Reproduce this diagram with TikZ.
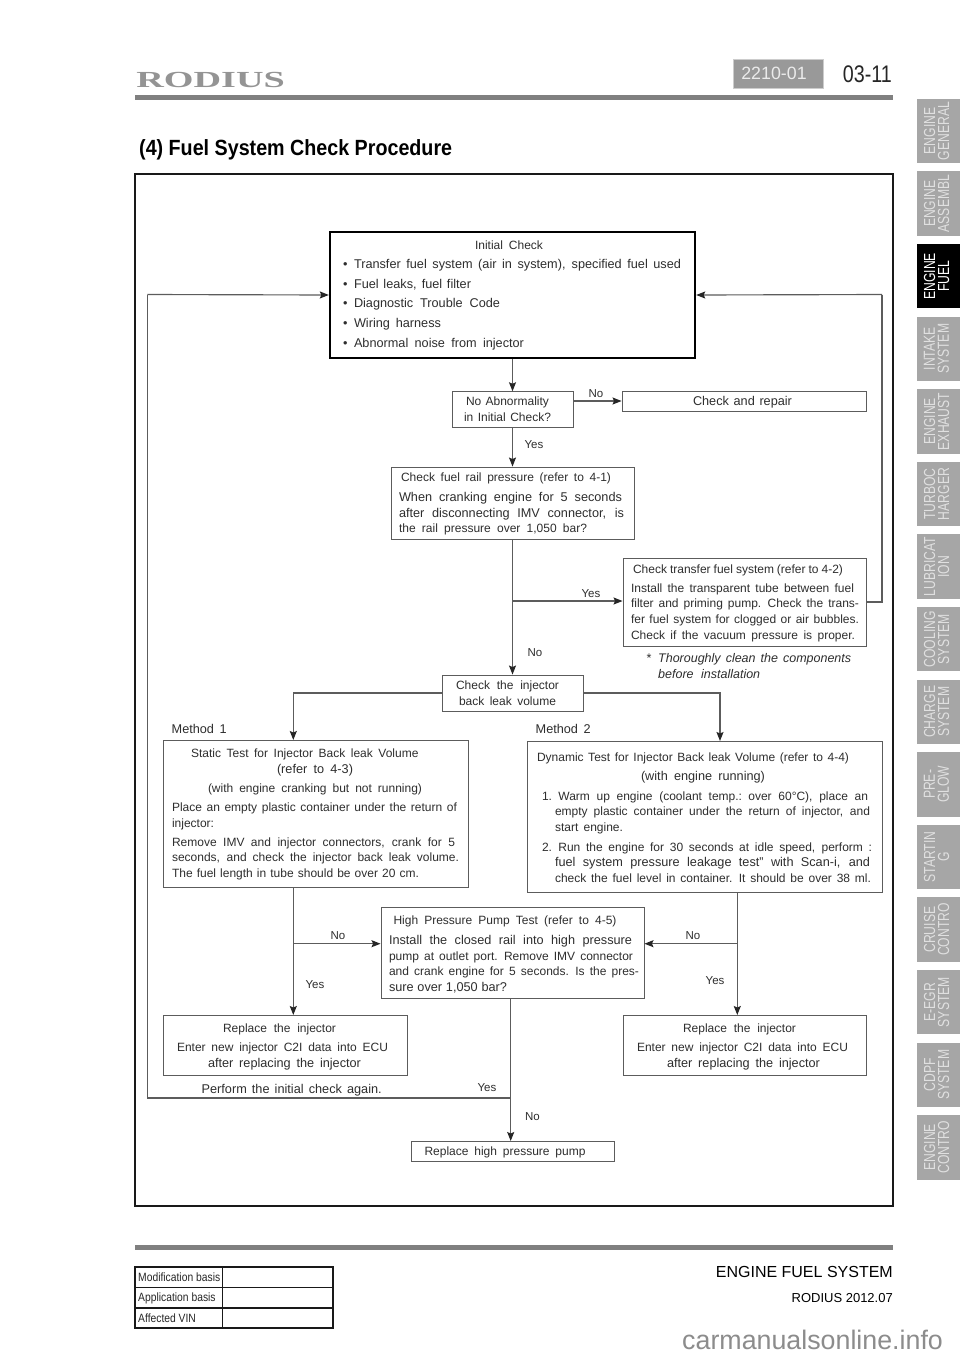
\documentclass[tikz,border=0pt]{standalone}
\usepackage{fontspec}
\setmainfont{Liberation Sans}
\newfontfamily\logofont{Liberation Serif}
\usetikzlibrary{arrows.meta}
\newcommand{\wsp}{\spaceskip=3.4pt plus 30pt minus 2.2pt\relax}
\newcommand{\dyy}{1pt}
\newcommand{\tline}[3]{\hspace*{#1pt}\raisebox{-\dyy}[\height][\depth]{\makebox[#2pt][s]{\wsp #3}}}
\newcommand{\sline}[3]{\hspace*{#1pt}\raisebox{-\dyy}[\height][\depth]{\makebox[#2pt][s]{\fontsize{12}{12}\selectfont\wsp #3}}}
\newcommand{\bline}[2]{\hspace*{13pt}\makebox[11pt][l]{\textbullet}\makebox[#1pt][s]{\wsp #2}}
\colorlet{ink}{black!82}
\colorlet{wire}{black!64}
\colorlet{tabgray}{black!35}
\tikzset{
  x=1pt,y=-1pt,
  boxn/.style={draw=wire,line width=0.9pt,inner sep=0pt,text=ink,
    font=\fontsize{12.7}{12}\selectfont},
  lab/.style={inner sep=0pt,text=ink,font=\fontsize{11.5}{12}\selectfont},
  free/.style={inner sep=0pt,text=ink,align=left,anchor=west,
    font=\fontsize{12.7}{12}\selectfont},
  wirel/.style={draw=wire,line width=1.15pt},
  arr/.style={wirel,-{Stealth[length=9pt,width=7pt,inset=1.5pt,color=black!85]}},
  tabn/.style={fill=tabgray,minimum width=43pt,minimum height=64.5pt,inner sep=0pt},
  tabt/.style={inner sep=0pt,rotate=90,align=center,text=black!12,
    font=\fontsize{16}{14}\selectfont},
  cellt/.style={inner sep=0pt,anchor=west,text=black!85,font=\fontsize{12}{12}\selectfont}
}
\newcommand{\tabx}[4]{%
  \node[tabn] (#1) at (938.5,#2) {};
  \node[tabt] (#1t) at (936.5,#2) {\scalebox{.76}[1]{#3}\\\scalebox{.76}[1]{#4}};}
\begin{document}
\begin{tikzpicture}
\useasboundingbox (0,0) rectangle (960,1358);
\fill[white] (0,0) rectangle (960,1358);
% header
\node[inner sep=0pt,text=black!42,anchor=west,font=\logofont\bfseries\fontsize{23}{23}\selectfont,xscale=1.66] (logo) at (136,80) {RODIUS};
\node[fill=black!40,draw=black!20,line width=1pt,minimum width=90pt,minimum height=29pt,inner sep=0pt,text=black!8,font=\fontsize{17.8}{17.8}\selectfont] (code) at (778,73.5) {\hspace*{-8pt}2210-01};
\node[inner sep=0pt,anchor=east,text=black!85,font=\fontsize{24}{24}\selectfont] (page) at (892,74) {\scalebox{.82}[1]{03-11}};
\fill[black!50] (135,95) rectangle (893,100);
\node[inner sep=0pt,anchor=west,font=\bfseries\fontsize{22}{22}\selectfont] (title) at (139,150) {\scalebox{.895}[1]{(4) Fuel System Check Procedure}};
% tabs
\tabx{t1}{131}{ENGINE}{GENERAL}
\tabx{t2}{203.6}{ENGINE}{ASSEMBL}
\node[tabn,fill=black] (t3) at (938.5,276.2) {};
\node[tabt,text=white] (t3t) at (936.5,276.2) {\scalebox{.76}[1]{ENGINE}\\\scalebox{.76}[1]{FUEL}};
\tabx{t4}{348.8}{INTAKE}{SYSTEM}
\tabx{t5}{421.4}{ENGINE}{EXHAUST}
\tabx{t6}{494}{TURBOC}{HARGER}
\tabx{t7}{566.6}{LUBRICAT}{ION}
\tabx{t8}{639.2}{COOLING}{SYSTEM}
\tabx{t9}{711.8}{CHARGE}{SYSTEM}
\tabx{t10}{784.4}{PRE-}{GLOW}
\tabx{t11}{857}{STARTIN}{G}
\tabx{t12}{929.6}{CRUISE}{CONTRO}
\tabx{t13}{1002.2}{E-EGR}{SYSTEM}
\tabx{t14}{1074.8}{CDPF}{SYSTEM}
\tabx{t15}{1147.4}{ENGINE}{CONTRO}
% frame
\draw[black!90,line width=1.8pt] (135,174) rectangle (893,1206);
% boxes
\renewcommand{\dyy}{0pt}
\node[boxn,draw=black,line width=2.4pt,minimum width=365pt,minimum height=126pt,text width=365pt] (init) at (512.5,295) {%
\sline{145}{68}{Initial Check}\\[7.6pt]
\bline{327}{Transfer fuel system (air in system), specified fuel used}\\[7.6pt]
\bline{117}{Fuel leaks, fuel filter}\\[7.6pt]
\bline{146}{Diagnostic Trouble Code}\\[7.6pt]
\bline{87}{Wiring harness}\\[7.6pt]
\bline{170}{Abnormal noise from injector}};
\node[boxn,minimum width=121pt,minimum height=35.5pt,text width=121pt] (noab) at (512.5,409.5) {%
\sline{14}{83}{No Abnormality}\\[3.6pt]
\sline{12}{87}{in Initial Check?}};
\node[boxn,minimum width=141pt,minimum height=36pt,text width=141pt] (inj) at (512.5,693) {%
\sline{14}{103}{Check the injector}\\[3.6pt]
\sline{17}{97}{back leak volume}};
\renewcommand{\dyy}{1pt}
\node[boxn,minimum width=244pt,minimum height=20pt,text width=244pt] (repair) at (744,401) {\tline{71}{99}{Check and repair}};
\node[boxn,minimum width=243pt,minimum height=72pt,text width=243pt] (rail) at (512.5,503) {%
\sline{10}{210}{Check fuel rail pressure (refer to 4-1)}\\[8pt]
\tline{8}{223}{When cranking engine for 5 seconds}\\[3.5pt]
\tline{8}{225}{after disconnecting IMV connector, is}\\[3.5pt]
\sline{8}{188}{the rail pressure over 1,050 bar?}};
\node[boxn,minimum width=243pt,minimum height=88pt,text width=243pt] (transfer) at (744.5,602) {%
\sline{10}{210}{Check transfer fuel system (refer to 4-2)}\\[7pt]
\sline{8}{223}{Install the transparent tube between fuel}\\[3.7pt]
\sline{8}{228}{filter and priming pump. Check the trans-}\\[3.7pt]
\sline{8}{228}{fer fuel system for clogged or air bubbles.}\\[3.7pt]
\sline{8}{224}{Check if the vacuum pressure is proper.}};
\node[boxn,minimum width=305pt,minimum height=147pt,text width=305pt] (static) at (315.5,813.5) {%
\sline{28}{227.5}{Static Test for Injector Back leak Volume}\\[3.6pt]
\tline{114}{76}{(refer to 4-3)}\\[7pt]
\sline{45}{214}{(with engine cranking but not running)}\\[7pt]
\sline{9}{285}{Place an empty plastic container under the return of}\\[3.6pt]
\sline{9}{44}{injector:}\\[7pt]
\sline{9}{283}{Remove IMV and injector connectors, crank for 5}\\[3.6pt]
\sline{9}{287}{seconds, and check the injector back leak volume.}\\[3.6pt]
\sline{9}{247}{The fuel length in tube should be over 20 cm.}};
\node[boxn,minimum width=355pt,minimum height=151pt,text width=355pt] (dyn) at (704.5,816.5) {%
\sline{10}{312}{Dynamic Test for Injector Back leak Volume (refer to 4-4)}\\[7.5pt]
\tline{114}{124}{(with engine running)}\\[7.5pt]
\sline{15}{326}{1. Warm up engine (coolant temp.: over 60°C), place an}\\[3.7pt]
\sline{28}{315}{empty plastic container under the return of injector, and}\\[3.7pt]
\sline{28}{68}{start engine.}\\[7.5pt]
\sline{15}{330}{2. Run the engine for 30 seconds at idle speed, perform :}\\[3.7pt]
\tline{28}{315}{fuel system pressure leakage test” with Scan-i, and}\\[3.7pt]
\sline{28}{316}{check the fuel level in container. It should be over 38 ml.}};
\node[boxn,minimum width=203pt,minimum height=20pt,text width=203pt] (rephp) at (512.5,1151) {\sline{13.5}{161}{Replace high pressure pump}};
\renewcommand{\dyy}{2pt}
\node[boxn,minimum width=263pt,minimum height=91pt,text width=263pt] (hp) at (512.5,952.5) {%
\sline{12.5}{223}{High Pressure Pump Test (refer to 4-5)}\\[8pt]
\tline{8}{243}{Install the closed rail into high pressure}\\[3.5pt]
\sline{8}{244}{pump at outlet port. Remove IMV connector}\\[3.5pt]
\sline{8}{250}{and crank engine for 5 seconds. Is the pres-}\\[3.5pt]
\tline{8}{118}{sure over 1,050 bar?}};
\node[boxn,minimum width=244pt,minimum height=60pt,text width=244pt] (repl) at (285,1045) {%
\sline{60}{113}{Replace the injector}\\[7pt]
\sline{14}{211}{Enter new injector C2I data into ECU}\\[3.6pt]
\tline{45}{153}{after replacing the injector}};
\node[boxn,minimum width=243pt,minimum height=60pt,text width=243pt] (repr) at (744.5,1045) {%
\sline{60}{113}{Replace the injector}\\[7pt]
\sline{14}{211}{Enter new injector C2I data into ECU}\\[3.6pt]
\tline{44}{153}{after replacing the injector}};
% free texts
\node[free,font=\itshape\fontsize{12.5}{12}\selectfont] (note) at (646,666) {\makebox[12pt][l]{*}\makebox[193pt][s]{\wsp Thoroughly clean the components}\\[3.6pt]\hspace*{12pt}\makebox[102pt][s]{\wsp before installation}};
\node[free] (m1) at (171.5,729) {\makebox[55pt][s]{\wsp Method 1}};
\node[free] (m2) at (535.5,729) {\makebox[55pt][s]{\wsp Method 2}};
\node[free] (again) at (201.5,1090.5) {\makebox[180pt][s]{\wsp Perform the initial check again.}};
% connector points
\coordinate (j1) at (512.5,601);
\coordinate (sin) at (293.3,740);
\coordinate (sout) at (293.3,887);
\coordinate (rlin) at (293.3,1015);
\coordinate (j2) at (293.3,943.7);
\coordinate (dinp) at (720,741);
\coordinate (dout) at (737.3,892);
\coordinate (rrin) at (737.3,1015);
\coordinate (j3) at (737.3,943.7);
\coordinate (hout) at (510.7,998);
\coordinate (hin) at (510.7,1141);
\coordinate (j4) at (510.7,1098);
\coordinate (c1) at (147.3,1098);
\coordinate (c2) at (147.3,294.5);
\coordinate (c3) at (882,602);
\coordinate (c4) at (882,294.5);
% connectors
\draw[arr] (init.south) -- (noab.north);
\draw[arr] (noab.east |- repair.west) -- (repair.west);
\draw[arr] (noab.south) -- (rail.north);
\draw[arr] (rail.south) -- (inj.north);
\draw[arr] (j1) -- (j1 -| transfer.west);
\draw[wirel] (transfer.east) -- (c3) -- (c4);
\draw[arr] (c4) -- (init.east);
\draw[arr] (inj.west) -| (sin);
\draw[arr] (inj.east) -| (dinp);
\draw[arr] (sout) -- (rlin);
\draw[arr] (j2) -- (j2 -| hp.west);
\draw[arr] (dout) -- (rrin);
\draw[arr] (j3) -- (j3 -| hp.east);
\draw[arr] (hout) -- (hin);
\draw[wirel] (j4) -- (c1) -- (c2);
\draw[arr] (c2) -- (init.west);
% connector labels
\node[lab] (l1) at (596,394) {No};
\node[lab] (l2) at (534,444.5) {Yes};
\node[lab] (l3) at (591,594) {Yes};
\node[lab] (l4) at (535,653) {No};
\node[lab] (l5) at (338,935.5) {No};
\node[lab] (l6) at (315,984.5) {Yes};
\node[lab] (l7) at (693,935.5) {No};
\node[lab] (l8) at (715,980.5) {Yes};
\node[lab] (l9) at (487,1088) {Yes};
\node[lab] (l10) at (532.5,1117) {No};
% footer
\fill[black!50] (135,1245) rectangle (893,1250);
\draw[black!90,line width=1.1pt] (135,1267) rectangle (333,1328);
\draw[black!90,line width=1.1pt] (135,1287.5) -- (333,1287.5) (135,1308) -- (333,1308) (222.5,1267) -- (222.5,1328);
\node[cellt] (c5) at (138,1277.5) {\scalebox{.86}[1]{Modification basis}};
\node[cellt] (c6) at (138,1298) {\scalebox{.86}[1]{Application basis}};
\node[cellt] (c7) at (138,1318) {\scalebox{.86}[1]{Affected VIN}};
\node[inner sep=0pt,anchor=east,font=\fontsize{16}{16}\selectfont] (sys) at (893,1272) {ENGINE FUEL SYSTEM};
\node[inner sep=0pt,anchor=east,font=\fontsize{13}{13}\selectfont] (rod) at (893,1298) {RODIUS 2012.07};
\node[inner sep=0pt,anchor=base west,text=black!45,font=\fontsize{26.8}{26.8}\selectfont] (wm) at (682,1349) {carmanualsonline.info};
\end{tikzpicture}
\end{document}
